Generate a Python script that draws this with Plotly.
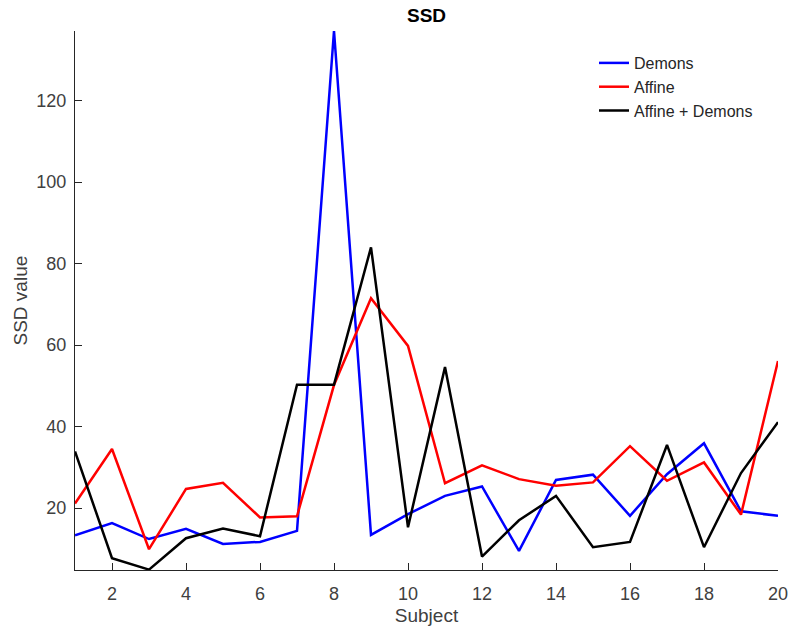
import plotly.graph_objects as go

subjects = list(range(1, 21))
demons = [13.3, 16.3, 12.4, 14.9, 11.2, 11.7, 14.4, 137.1, 13.4, 18.5,
          23.0, 25.3, 9.5, 26.9, 28.2, 18.1, 28.3, 35.9, 19.2, 18.1]
affine = [21.1, 34.5, 9.9, 24.7, 26.2, 17.7, 18.0, 50.2, 71.5, 59.8,
          26.1, 30.5, 27.1, 25.5, 26.3, 35.2, 26.7, 31.2, 18.4, 56.1]
affine_demons = [33.9, 7.7, 4.9, 12.6, 15.0, 13.1, 50.3, 50.3, 84.0, 15.3,
                 54.6, 8.1, 17.0, 23.0, 10.4, 11.7, 35.5, 10.4, 28.6, 41.1]
xticks = [2, 4, 6, 8, 10, 12, 14, 16, 18, 20]
yticks = [20, 40, 60, 80, 100, 120]

axis_color = "#262626"
tick_color = "#404040"
font_family = "Liberation Sans, Arial, sans-serif"

fig = go.Figure()
for name, vals, col in [("Demons", demons, "#0000FF"),
                        ("Affine", affine, "#FF0000"),
                        ("Affine + Demons", affine_demons, "#000000")]:
    fig.add_trace(go.Scatter(x=subjects, y=vals, mode="lines", name=name,
                             line=dict(color=col, width=2.5)))

fig.update_layout(
    width=789, height=629,
    margin=dict(l=75, r=11, t=31, b=59),
    paper_bgcolor="white", plot_bgcolor="white",
    font=dict(family=font_family, size=16, color=tick_color),
    title=dict(text="<b>SSD</b>", x=0.5, xref="paper", xanchor="center",
               y=1 - 15 / 629, yanchor="middle",
               font=dict(size=19, color="#000000", family=font_family)),
    showlegend=True,
    legend=dict(x=(594 - 75) / 703, y=1 - (46 - 31) / 539, xanchor="left", yanchor="top",
                bgcolor="rgba(255,255,255,0)", borderwidth=0,
                font=dict(size=16, color="#262626", family=font_family),
                tracegroupgap=0),
    annotations=[dict(text="SSD value", xref="paper", yref="paper",
                      x=-(75 - 20) / 703, y=0.5, xanchor="center", yanchor="middle",
                      textangle=-90, showarrow=False,
                      font=dict(size=19, color=tick_color, family=font_family))],
)
fig.update_xaxes(range=[1, 20], tickvals=xticks, ticks="inside", ticklen=7,
                 tickwidth=1, tickcolor=axis_color, showline=True, linecolor=axis_color,
                 linewidth=1, showgrid=False, zeroline=False, mirror=False, automargin=False,
                 tickfont=dict(size=18, color=tick_color), ticklabelstandoff=7,
                 title=dict(text="Subject", font=dict(size=19, color=tick_color), standoff=6))
fig.update_yaxes(range=[4.8, 137.1], tickvals=yticks, ticks="inside", ticklen=7,
                 tickwidth=1, tickcolor=axis_color, showline=True, linecolor=axis_color,
                 linewidth=1, showgrid=False, zeroline=False, mirror=False, automargin=False,
                 tickfont=dict(size=18, color=tick_color), ticksuffix="\u00a0",
                 ticklabelstandoff=4)

fig.write_html("out.html")
